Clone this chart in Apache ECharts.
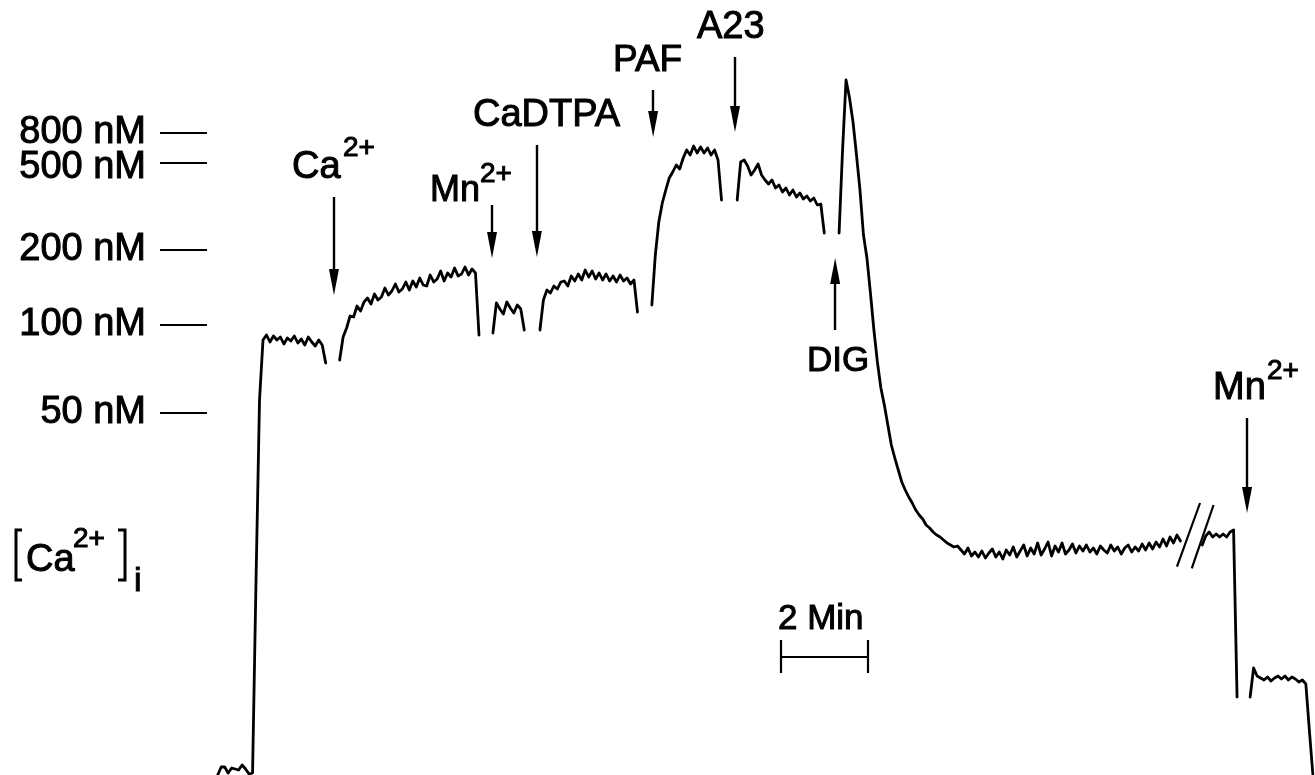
<!DOCTYPE html>
<html>
<head>
<meta charset="utf-8">
<script src="https://cdn.jsdelivr.net/npm/echarts@6/dist/echarts.min.js"></script>
<style>
html,body{margin:0;padding:0;background:#fff;}
#c{width:1315px;height:775px;}
</style>
</head>
<body>
<div id="c"></div>
<script>
// ---- recorded trace: sampling interval (min), segment start times (min), signal values (a.u.) ----
const dt = 0.08;
const segStart = [0, 2.8, 6.32, 7.40, 9.97, 11.93, 14.27, 22.61, 23.71];
const seg1 = [0, 1.6, 1.6, 0.4, 1.4, 1.2, 1.0, 2.0, 1.2, 0.2, 0.4, 39, 75, 87, 88, 86.6, 87.8, 87, 87.6, 86.2, 87.4, 86.8, 87.8, 86.4, 87.2, 86, 87.6, 86.6, 85.8, 87, 86, 82.4];
const seg2 = [83, 87.6, 89.4, 91.8, 91.6, 93.8, 92.8, 94.6, 95.4, 94.2, 96.2, 95.0, 95.6, 97.4, 96.0, 96.8, 98.2, 96.6, 97.2, 98.6, 97.0, 98.8, 97.6, 99.4, 98.0, 97.8, 100.0, 98.6, 99.2, 100.8, 98.8, 100.4, 99.6, 101.4, 99.8, 100.2, 101.6, 100.0, 101.2, 100.4, 88];
const seg3 = [88.4, 94.4, 93.2, 92.2, 94.6, 93.4, 92.4, 94.0, 93.2, 89];
const seg4 = [89, 95, 97, 96.4, 97.8, 97.2, 98.6, 98.8, 97.8, 99.8, 98.8, 100.2, 99.0, 101.0, 99.6, 100.8, 99.2, 100.4, 99.0, 100.2, 98.8, 99.8, 98.6, 100.0, 98.8, 99.4, 98.2, 99.0, 92.6];
const seg5 = [94, 104, 110.6, 114.4, 117, 119.4, 120.6, 122, 121.2, 123.4, 125, 124, 125.8, 124.4, 125.6, 124.4, 125.4, 124, 125, 123, 115];
const seg6 = [115, 122.6, 123, 121.8, 120, 121, 122.2, 120, 119, 118.2, 119, 117.4, 118, 116.6, 117.4, 116, 117, 115.6, 116.4, 115.2, 115.8, 114.8, 115.4, 114, 114.2, 108.4];
const seg7 = [108.4, 125, 139, 135.4, 130.6, 124, 117, 108, 103.4, 96.4, 89, 82.6, 77.4, 74, 70, 66, 63.4, 61, 58.6, 57, 55.6, 54.4, 53, 52, 51.2, 50, 49.4, 48.6, 48, 47.6, 47, 46.4, 46, 45.6, 45.8,
  45.0, 44.2, 45.4, 43.8, 44.6, 43.6, 44.8, 43.4, 44.4, 45.2, 43.6, 44.6, 43.2, 45.0, 44.0, 45.6, 43.6, 44.8, 46.0, 43.8, 45.4, 44.2, 46.4, 44.0, 45.2, 46.6, 43.8, 45.8, 44.6, 46.4, 44.2, 45.0, 46.2, 44.4, 45.8, 44.8, 46.0, 44.6, 45.4, 44.2, 45.8, 45.0, 44.4, 46.0, 44.8, 45.6, 44.2, 45.4, 46.0, 44.6, 45.6, 44.8, 46.2, 45.0, 46.4, 45.2, 46.6, 45.6, 47.2, 45.8, 47.6, 46.4, 48.0, 46.8];
const seg8 = [46, 47.8, 48.6, 47.6, 48.2, 47.6, 48.2, 47.6, 48.6, 49, 15.6];
const seg9 = [15.6, 21.4, 19.8, 19.4, 19, 19.6, 18.8, 19.4, 19.8, 19.2, 19.8, 19, 19.6, 19.2, 18.6, 19, 18.2, 9, 0.2];

// ---- calibration (nM) and signal levels ----
const calLabels = ['800 nM', '500 nM', '200 nM', '100 nM', '50 nM'];
const calLevels = [128.4, 122.4, 105, 90, 72.4];

// ---- additions (time in min) ----
const eventNames = ['Ca', 'Mn', 'CaDTPA', 'PAF', 'A23', 'DIG', 'Mn'];
const eventTimes = [2.67, 6.30, 7.33, 10.0, 11.88, 14.18, 23.64];

// ---- scale bar ----
const scaleBarStart = 12.94;
const scaleBarMinutes = 2;

// ================= build chart =================
const FONT = '"Liberation Sans", Arial, Helvetica, sans-serif';
const segments = [seg1, seg2, seg3, seg4, seg5, seg6, seg7, seg8, seg9];
const chart = echarts.init(document.getElementById('c'), null, {renderer: 'canvas'});

const series = segments.map((vals, k) => ({
  type: 'line',
  data: vals.map((v, i) => [+(segStart[k] + i * dt).toFixed(4), v]),
  showSymbol: false,
  symbol: 'none',
  silent: true,
  animation: false,
  lineStyle: {color: '#000', width: 2.8, join: 'round', cap: 'round'},
  z: 3
}));

// arrow layout: [tail, tip] in signal units, per event; arrow head drawn centred on its end point
const HEAD = 26, PX_PER_UNIT = 5;
const arrowSpan = [[115.6, 96], [114, 103.4], [126, 103.6], [137, 127.6], [143.6, 128.6], [89, 103.4], [71.4, 52.4]];
const arrowData = eventTimes.map((t, i) => {
  const [a, b] = arrowSpan[i];
  const dir = b > a ? 1 : -1;
  const tip = b - dir * (HEAD / 2) / PX_PER_UNIT;
  return [{coord: [t, a]}, {coord: [t, tip]}];
});

series.push({
  type: 'line', data: [], silent: true, animation: false,
  markLine: {
    silent: true, animation: false,
    symbol: ['none', 'triangle'], symbolSize: [10, HEAD],
    lineStyle: {color: '#000', width: 2.4, type: 'solid'},
    itemStyle: {color: '#000'},
    label: {show: false},
    emphasis: {disabled: true},
    data: arrowData
  }
});

// calibration dashes with labels (label of 500 nM sits slightly below its dash)
const labelShift = [0, 5, 0, 0, 0];
series.push({
  type: 'line', data: [], silent: true, animation: false,
  markLine: {
    silent: true, animation: false, symbol: ['none', 'none'],
    lineStyle: {color: '#000', width: 2.2, type: 'solid'},
    label: {show: true, position: 'start', formatter: '{b}', distance: 14, color: '#000', fontSize: 38, fontFamily: FONT,
      textBorderColor: '#000', textBorderWidth: 1},
    emphasis: {disabled: true},
    data: calLabels.map((name, i) => [
      {name, coord: [-1.325, calLevels[i]], label: {offset: [0, labelShift[i]]}},
      {coord: [-0.246, calLevels[i]]}
    ])
  }
});

// scale bar and break marks
const sbEnd = scaleBarStart + scaleBarMinutes;
series.push({
  type: 'line', data: [], silent: true, animation: false,
  markLine: {
    silent: true, animation: false, symbol: ['none', 'none'],
    lineStyle: {color: '#000', width: 2.2, type: 'solid'},
    label: {show: false},
    emphasis: {disabled: true},
    data: [
      [{coord: [scaleBarStart, 23.6]}, {coord: [sbEnd, 23.6]}],
      [{coord: [scaleBarStart, 27]}, {coord: [scaleBarStart, 20.4]}],
      [{coord: [sbEnd, 27]}, {coord: [sbEnd, 20.4]}],
      [{coord: [22.03, 41.66]}, {coord: [22.56, 54.4]}],
      [{coord: [22.37, 41.34]}, {coord: [22.87, 54.0]}]
    ]
  }
});

function txt(text, x, y, size) {
  return {type: 'text', x, y, silent: true, z: 10,
    style: {text, font: size + 'px ' + FONT, fill: '#000', textAlign: 'left', textVerticalAlign: 'middle', verticalAlign: 'middle', align: 'left',
      stroke: '#000', lineWidth: 1}};
}
const BIG = 38, SUP = 28;
const graphics = [
  txt('Ca', 292, 168, BIG), txt('2+', 343, 148, SUP),
  txt('Mn', 430, 191, 36), txt('2+', 480, 174, SUP),
  txt('CaDTPA', 473, 116, BIG),
  txt('PAF', 613, 61, 37),
  txt('A23', 697, 28, BIG),
  txt('DIG', 807, 361, 35),
  txt('Mn', 1213, 389, BIG), txt('2+', 1267, 371, SUP),
  txt('2 Min', 778, 619, 35),
  txt('Ca', 26, 561, BIG), txt('2+', 73, 539, SUP), txt('i', 134, 582, 34),
  {type: 'polyline', silent: true, shape: {points: [[22, 530], [16, 530], [16, 580], [22, 580]]}, style: {stroke: '#000', lineWidth: 3, fill: null}},
  {type: 'polyline', silent: true, shape: {points: [[118, 530], [125, 530], [125, 580], [118, 580]]}, style: {stroke: '#000', lineWidth: 3, fill: null}}
];

chart.setOption({
  animation: false,
  backgroundColor: '#fff',
  grid: {left: 0, right: 0, top: 0, bottom: 0},
  xAxis: {type: 'value', min: -5, max: 25.2, show: false},
  yAxis: {type: 'value', min: 0, max: 155, show: false},
  series,
  graphic: graphics
});
</script>
</body>
</html>
